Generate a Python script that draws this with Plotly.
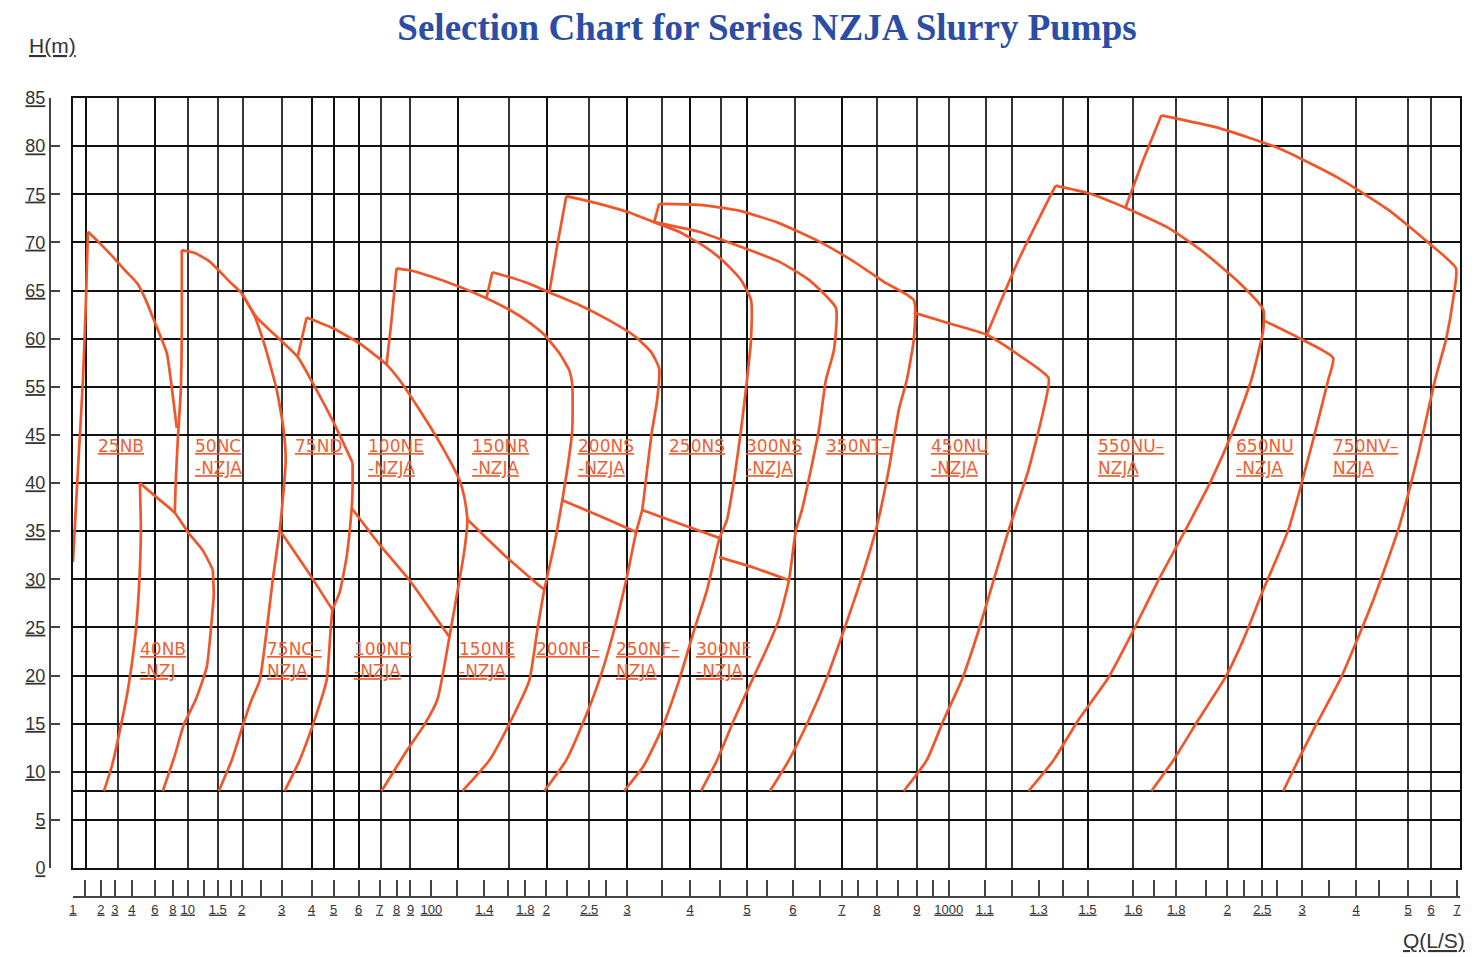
import plotly.graph_objects as go

# ---------------- axis definitions (chart units along the Q scale) ----------------
# labelled ticks of the Q(L/S) strip: position along the scale and label
Q_LABEL_POS = [0, 28, 42, 59, 82, 100, 115, 145, 169, 209, 239, 261, 286, 307, 324, 338, 359,
               412, 453, 474, 517, 555, 618, 675, 721, 770, 805, 845, 877, 913, 967, 1016, 1062,
               1105, 1156, 1191, 1231, 1285, 1337, 1360, 1386]
Q_LABEL_TEXT = ["1", "2", "3", "4", "6", "8", "10", "1.5", "2", "3", "4", "5", "6", "7", "8", "9", "100",
                "1.4", "1.8", "2", "2.5", "3", "4", "5", "6", "7", "8", "9", "1000", "1.1", "1.3", "1.5", "1.6",
                "1.8", "2", "2.5", "3", "4", "5", "6", "7"]
# unlabelled ticks of the strip
Q_MINOR_TICKS = [12, 131, 158, 188, 385, 436, 495, 534, 590, 648, 695, 748, 786, 826, 861, 940,
                 991, 1083, 1135, 1173, 1206, 1258, 1308]
# vertical grid lines of the chart field (dark / grey)
Q_GRID_DARK = [13, 82, 239, 261, 286, 386, 475, 555, 618, 675, 770, 1016, 1191]
Q_GRID_GREY = [45, 115, 145, 170, 209, 308, 338, 437, 517, 590, 649, 723, 805, 845, 877, 914,
               940, 991, 1062, 1105, 1157, 1231, 1285, 1337, 1360]
Q_RANGE = [0, 1389]

# H(m) axis labels (evenly spaced on the chart, note 45 is followed by 55)
H_LABELS = [0, 5, 10, 15, 20, 25, 30, 35, 40, 45, 55, 60, 65, 70, 75, 80, 85]
H_EXTRA_LINE = 8  # additional horizontal rule at 8 m


def h_to_axis(h):
    """Map a head value (m) onto the evenly spaced H scale of the chart."""
    if h <= 45:
        return h
    if h < 55:
        return 45 + (h - 45) / 2.0
    return h - 5


# ---------------- pump curves: Q-scale position and head H (m) ----------------
nb25_left_q = [0, 5, 10, 13, 15]
nb25_left_h = [31.8, 41.4, 55.7, 64.0, 71.1]
nb25_top_q = [15, 27, 40, 52, 64, 73, 80, 87, 94, 98, 104]
nb25_top_h = [71.1, 69.9, 68.5, 67.1, 65.8, 64.0, 62.2, 60.4, 58.5, 55.7, 46.4]
nc50_left_q = [109, 109, 108, 105, 103, 102]
nc50_left_h = [69.2, 60.9, 54.4, 44.5, 40.3, 37.0]
nc50_top_q = [109, 122, 137, 157, 169, 182, 192, 204, 211, 213, 211, 207, 200, 194, 187, 179, 171, 159, 146]
nc50_top_h = [69.2, 68.9, 68.0, 65.9, 64.7, 62.3, 59.3, 54.4, 46.0, 42.4, 39.3, 35.1, 29.9, 24.7, 19.5, 17.5,
              15.1, 11.2, 8]
nb40_left_q = [67, 68, 66, 62, 55, 47, 39, 31]
nb40_left_h = [40.0, 35.1, 28.9, 23.7, 18.5, 14.3, 10.6, 8]
nb40_top_q = [67, 85, 102, 115, 130, 140]
nb40_top_h = [40.0, 38.4, 36.9, 34.9, 33.0, 31.0]
nb40_right_q = [140, 141, 139, 134, 123, 111, 102, 90]
nb40_right_h = [31.0, 28.4, 25.8, 20.9, 17.5, 14.9, 11.7, 8]
nd75_upper_q = [169, 184, 202, 225, 240, 260, 280]
nd75_upper_h = [64.7, 62.2, 60.4, 58.1, 55.4, 48.0, 42.1]
nd75_right_q = [280, 280, 279, 274, 267, 260, 254, 241, 227, 212]
nd75_right_h = [42.1, 39.3, 37.2, 32.3, 28.6, 26.8, 19.5, 15.1, 11.2, 8]
nd75_left_q = [225, 234]
nd75_left_h = [58.1, 62.2]
nd75_top_q = [234, 260, 287, 314, 327, 347, 370, 387, 392, 395, 392, 387, 377, 365, 352, 335, 309]
nd75_top_h = [62.2, 61.1, 59.5, 57.3, 55.7, 50.2, 43.7, 40.3, 38.5, 36.2, 33.0, 29.9, 24.0, 17.5, 14.9,
              12.3, 8]
nc75_top_q = [207, 234, 260]
nc75_top_h = [35.1, 31.0, 26.8]
nd100_top_q = [279, 307, 337, 377]
nd100_top_h = [37.4, 33.6, 29.9, 24.0]
ne150_top_q = [395, 432, 472]
ne150_top_h = [36.2, 32.5, 28.9]
ne100_left_q = [314, 319, 324]
ne100_left_h = [57.3, 61.9, 67.3]
ne100_top_q = [324, 337, 357, 387, 414, 437, 454, 472, 487, 497, 500, 500, 495, 490, 482, 472, 465, 457,
               439, 417, 390]
ne100_top_h = [67.3, 67.1, 66.5, 65.4, 64.2, 63.0, 61.9, 60.4, 58.5, 56.7, 55.2, 46.0, 41.4, 38.2, 33.6,
               28.9, 24.7, 19.5, 15.4, 11.2, 8]
nr150_left_q = [414, 420]
nr150_left_h = [64.2, 66.9]
nr150_top_q = [420, 437, 457, 477, 507, 537, 562, 579, 587, 585, 580, 575, 570, 564, 554, 540, 527, 512,
               494, 472]
nr150_top_h = [66.9, 66.4, 65.7, 64.8, 63.5, 61.9, 60.3, 58.6, 56.9, 52.2, 46.0, 41.4, 37.2, 34.9, 29.9,
               24.0, 19.5, 15.4, 11.2, 8]
ns200_left_q = [477, 485, 494]
ns200_left_h = [64.8, 69.7, 74.8]
ns200_top_q = [494, 527, 557, 582, 607, 632, 652, 669, 679, 679, 675, 669, 662, 655, 647, 635, 622, 607,
               589, 572, 552]
ns200_top_h = [74.8, 74.0, 73.1, 72.1, 71.1, 69.6, 68.0, 66.1, 64.0, 59.9, 55.7, 46.0, 40.3, 36.2, 34.1,
               28.9, 24.7, 19.5, 14.3, 10.7, 8]
nf200_top_q = [490, 527, 564]
nf200_top_h = [38.2, 36.6, 34.9]
nf250_top_q = [570, 607, 647]
nf250_top_h = [37.2, 35.8, 34.3]
nf300_top_q = [647, 682, 717]
nf300_top_h = [32.3, 31.2, 29.9]
ns250_left_q = [582, 587]
ns250_left_h = [72.1, 74.0]
ns250_top_q = [587, 627, 667, 707, 747, 782, 812, 842, 842, 835, 827, 817, 804, 789, 772, 754, 737, 717, 698]
ns250_top_h = [74.0, 73.9, 73.3, 72.0, 70.1, 68.0, 65.9, 64.0, 59.9, 55.7, 50.2, 41.4, 35.1, 29.9, 24.7,
               19.5, 15.4, 11.2, 8]
ns300_top_q = [582, 627, 667, 707, 737, 764, 762, 754, 747, 739, 730, 724, 717, 707, 694, 680, 662, 645, 629]
ns300_top_h = [72.1, 71.1, 69.6, 68.0, 66.1, 63.2, 58.8, 55.7, 46.0, 41.4, 37.2, 35.1, 29.9, 25.8, 22.6,
               19.5, 15.4, 11.2, 8]
nt350_top_q = [842, 877, 915, 947, 977, 972, 957, 937, 922, 907, 890, 872, 855, 832]
nt350_top_h = [62.7, 61.6, 60.4, 58.3, 55.9, 50.2, 41.4, 35.1, 29.9, 24.7, 19.5, 15.4, 11.2, 8]
nu450_left_q = [915, 947, 984]
nu450_left_h = [60.4, 68.2, 75.9]
nu450_top_q = [984, 1017, 1054, 1097, 1132, 1167, 1192, 1192, 1180, 1162, 1140, 1114, 1087, 1062, 1037,
               1007, 982, 957]
nu450_top_h = [75.9, 75.1, 73.6, 71.5, 69.0, 65.9, 63.0, 60.9, 55.7, 46.0, 40.3, 35.1, 29.9, 24.7, 19.8,
               15.4, 11.2, 8]
nu650_top_q = [1192, 1227, 1262, 1257, 1242, 1217, 1192, 1172, 1154, 1127, 1102, 1080]
nu650_top_h = [61.9, 60.1, 58.0, 55.7, 44.5, 35.1, 28.9, 23.7, 19.8, 15.4, 11.2, 8]
nu550_left_q = [1054, 1072, 1090]
nu550_left_h = [73.6, 78.6, 83.2]
nu550_top_q = [1090, 1147, 1207, 1267, 1317, 1357, 1385, 1382, 1375, 1364, 1347, 1327, 1302, 1270, 1242,
               1227, 1212]
nu550_top_h = [83.2, 81.9, 79.8, 76.7, 73.4, 70.0, 67.3, 64.0, 59.9, 55.7, 42.9, 35.1, 27.8, 19.8, 14.3,
               11.2, 8]

CURVES = [
    (nb25_left_q, nb25_left_h), (nb25_top_q, nb25_top_h), (nc50_left_q, nc50_left_h),
    (nc50_top_q, nc50_top_h), (nb40_left_q, nb40_left_h), (nb40_top_q, nb40_top_h),
    (nb40_right_q, nb40_right_h), (nd75_upper_q, nd75_upper_h), (nd75_right_q, nd75_right_h),
    (nd75_left_q, nd75_left_h), (nd75_top_q, nd75_top_h), (nc75_top_q, nc75_top_h),
    (nd100_top_q, nd100_top_h), (ne150_top_q, ne150_top_h), (ne100_left_q, ne100_left_h),
    (ne100_top_q, ne100_top_h), (nr150_left_q, nr150_left_h), (nr150_top_q, nr150_top_h),
    (ns200_left_q, ns200_left_h), (ns200_top_q, ns200_top_h), (nf200_top_q, nf200_top_h),
    (nf250_top_q, nf250_top_h), (nf300_top_q, nf300_top_h), (ns250_left_q, ns250_left_h),
    (ns250_top_q, ns250_top_h), (ns300_top_q, ns300_top_h), (nt350_top_q, nt350_top_h),
    (nu450_left_q, nu450_left_h), (nu450_top_q, nu450_top_h), (nu650_top_q, nu650_top_h),
    (nu550_left_q, nu550_left_h), (nu550_top_q, nu550_top_h),
]

# pump model labels: text, Q-scale position of left edge, head of top edge (m)
UPPER_LABELS = ["25NB", "50NC<br>-NZJA", "75ND", "100NE<br>-NZJA", "150NR<br>-NZJA", "200NS<br>-NZJA",
                "250NS", "300NS<br>-NZJA", "350NT–", "450NU<br>-NZJA", "550NU–<br>NZJA", "650NU<br>-NZJA",
                "750NV–<br>NZJA"]
UPPER_LABEL_Q = [23, 120, 220, 293, 398, 504, 595, 672, 752, 857, 1024, 1163, 1260]
UPPER_LABEL_H = 45.2
LOWER_LABELS = ["40NB<br>-NZJ", "75NC–<br>NZJA", "100ND<br>-NZJA", "150NE<br>-NZJA", "200NF–",
                "250NF–<br>NZJA", "300NF<br>-NZJA"]
LOWER_LABEL_Q = [65, 192, 279, 385, 462, 542, 622]
LOWER_LABEL_H = 24.0

CURVE_COLOR = "#F0562A"
LABEL_COLOR = "#EF5F33"
GRID_DARK = "#111111"
GRID_GREY = "#353535"
TICK_FONT = dict(family="Liberation Sans, Arial, sans-serif", size=13, color="#333333")
LABEL_FONT = dict(family="DejaVu Sans, sans-serif", size=17, color=LABEL_COLOR)

fig = go.Figure()
for q, h in CURVES:
    fig.add_trace(go.Scatter(
        x=q, y=[h_to_axis(v) for v in h], mode="lines",
        line=dict(color=CURVE_COLOR, width=2.7, shape="spline", smoothing=0.5),
        hoverinfo="skip", showlegend=False, xaxis="x", yaxis="y"))

# invisible trace so that the label axes are drawn
fig.add_trace(go.Scatter(x=[Q_RANGE[0]], y=[0], mode="markers", marker=dict(opacity=0),
                         hoverinfo="skip", showlegend=False, xaxis="x2", yaxis="y2"))


def u(t):
    return "<u>%s</u>" % t


annotations = []
for txt, q in zip(UPPER_LABELS, UPPER_LABEL_Q):
    annotations.append(dict(
        x=q, y=h_to_axis(UPPER_LABEL_H), xref="x", yref="y", xanchor="left", yanchor="top",
        text="<br>".join(u(p) for p in txt.split("<br>")), showarrow=False, align="left",
        font=LABEL_FONT))
for txt, q in zip(LOWER_LABELS, LOWER_LABEL_Q):
    annotations.append(dict(
        x=q, y=h_to_axis(LOWER_LABEL_H), xref="x", yref="y", xanchor="left", yanchor="top",
        text="<br>".join(u(p) for p in txt.split("<br>")), showarrow=False, align="left",
        font=LABEL_FONT))
annotations.append(dict(x=0, y=1.066, xref="paper", yref="paper", xanchor="center", yanchor="middle",
                        xshift=2, text=u("H(m)"), showarrow=False,
                        font=dict(family="Liberation Sans, Arial, sans-serif", size=21, color="#333333")))
annotations.append(dict(x=0.9816, y=-0.055, xref="paper", yref="paper", xanchor="center",
                        yanchor="middle", text=u("Q(L/S)"), showarrow=False,
                        font=dict(family="Liberation Sans, Arial, sans-serif", size=21, color="#333333")))

strip_vals = Q_LABEL_POS + Q_MINOR_TICKS
strip_text = [u(t) for t in Q_LABEL_TEXT] + [""] * len(Q_MINOR_TICKS)
h_positions = [5 * i for i in range(len(H_LABELS))]

# the page body adds an 8 px offset, so the figure is 8 px smaller than the window
W, H = 1466, 949
ML, MR, MT, MB = 42, 12, 90, 60
pw, ph = W - ML - MR, H - MT - MB

fig.update_layout(
    width=W, height=H,
    margin=dict(l=ML, r=MR, t=MT, b=MB),
    paper_bgcolor="white", plot_bgcolor="white",
    showlegend=False,
    title=dict(text="<b>Selection Chart for Series NZJA Slurry Pumps</b>",
               font=dict(family="Liberation Serif, Times New Roman, serif", size=37, color="#2B4DA6"),
               x=759 / W, xref="container", xanchor="center",
               y=1 - 19 / H, yref="container", yanchor="middle"),
    xaxis=dict(domain=[23 / pw, 1], range=Q_RANGE, tickmode="array", tickvals=Q_GRID_DARK,
               showticklabels=False, ticks="", showgrid=True, gridcolor=GRID_DARK, gridwidth=2,
               minor=dict(tickmode="array", tickvals=Q_GRID_GREY, showgrid=True, gridcolor=GRID_GREY,
                          gridwidth=2.4, ticks=""),
               showline=True, mirror=True, linecolor="#111111", linewidth=2, zeroline=False,
               fixedrange=True),
    yaxis=dict(domain=[29 / ph, 1], range=[0, 80], tickmode="array",
               tickvals=h_positions + [h_to_axis(H_EXTRA_LINE)], showticklabels=False, ticks="",
               showgrid=True, gridcolor=GRID_DARK, gridwidth=2.4,
               showline=True, mirror=True, linecolor="#111111", linewidth=2, zeroline=False,
               fixedrange=True),
    xaxis2=dict(overlaying="x", anchor="free", position=0, side="bottom", range=Q_RANGE,
                tickmode="array", tickvals=strip_vals, ticktext=strip_text, ticks="inside", ticklen=16,
                tickwidth=2, tickcolor="#444444", showline=True, linecolor="#444444", linewidth=2,
                showgrid=False, zeroline=False, tickfont=TICK_FONT, tickangle=0, fixedrange=True),
    yaxis2=dict(overlaying="y", anchor="free", position=0, side="left", range=[0, 80],
                tickmode="array", tickvals=h_positions, ticktext=[u(v) for v in H_LABELS],
                ticks="inside", ticklen=9, tickwidth=2, tickcolor="#444444", showline=True,
                linecolor="#444444", linewidth=2, showgrid=False, zeroline=False,
                tickfont=dict(family="Liberation Sans, Arial, sans-serif", size=18, color="#333333"),
                fixedrange=True),
    annotations=annotations,
)

fig.write_html("out.html")
